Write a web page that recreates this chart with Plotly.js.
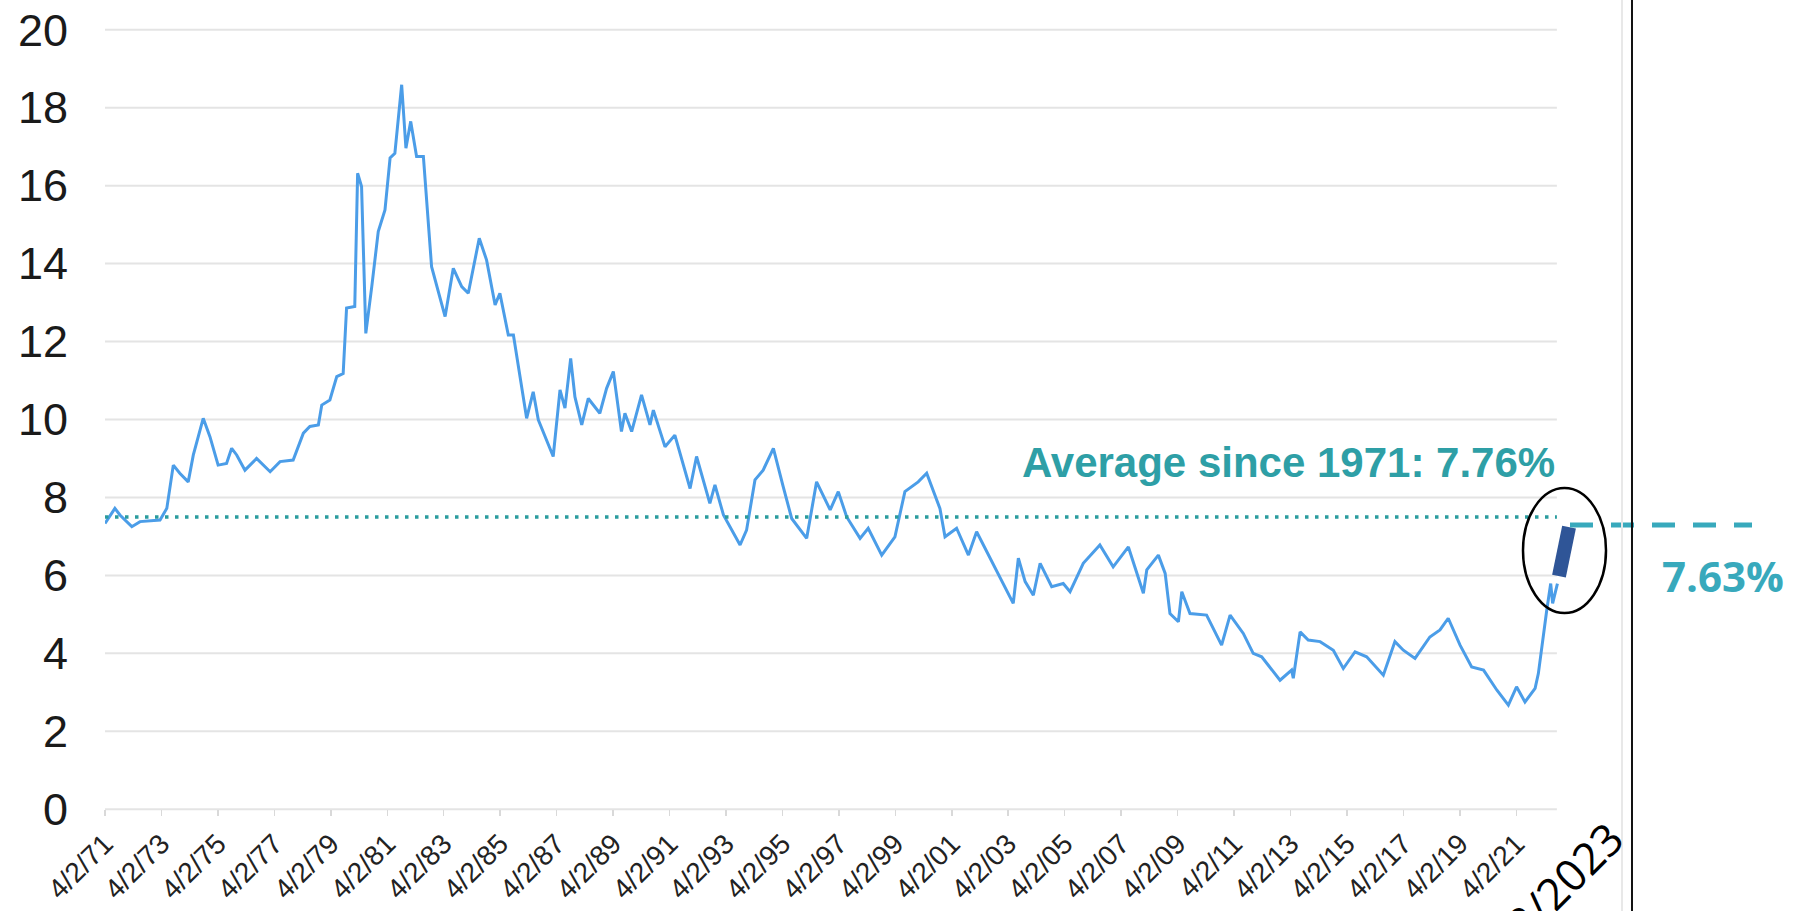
<!DOCTYPE html>
<html><head><meta charset="utf-8">
<script src="https://cdn.plot.ly/plotly-3.0.1.min.js"></script>
<style>html,body{margin:0;padding:0;background:#fff}#chart{width:1795px;height:911px}</style>
</head><body><div id="chart"></div>
<script>
// ---- data ----
const dates = [
'1971-04-02','1971-08-08','1971-10-12','1972-03-14','1972-06-28','1973-03-14','1973-06-10','1973-09-02','1973-11-25',
'1974-03-14','1974-05-19','1974-09-24','1974-12-20','1975-04-05','1975-07-23','1975-09-27','1975-12-01','1976-03-17',
'1976-08-14','1977-02-06','1977-06-14','1977-12-01','1978-04-12','1978-07-05','1978-10-23','1978-12-06','1979-03-21',
'1979-06-18','1979-09-09','1979-10-23','1980-02-06','1980-03-14','1980-05-04','1980-06-28','1980-09-13','1980-12-06',
'1981-03-03','1981-05-08','1981-07-09','1981-10-05','1981-11-29','1982-01-30','1982-04-16','1982-07-13','1982-10-27',
'1983-04-20','1983-08-04','1983-11-21','1984-02-14','1984-07-05','1984-10-08','1985-01-26','1985-03-29','1985-07-16',
'1985-09-20','1986-03-10','1986-06-03','1986-08-08','1987-02-17','1987-05-16','1987-07-19','1987-10-01','1987-11-25',
'1988-02-21','1988-05-16','1988-10-12','1989-01-08','1989-04-05','1989-07-19','1989-09-02','1989-11-28','1990-04-05',
'1990-07-23','1990-09-05','1991-02-03','1991-06-10','1991-12-24','1992-03-17','1992-09-05','1992-11-10','1993-02-28',
'1993-10-01','1993-12-24','1994-04-12','1994-07-27','1994-12-06','1995-04-12','1995-07-31','1996-02-10','1996-06-17',
'1996-12-10','1997-03-25','1997-07-12','1998-01-01','1998-04-16','1998-10-08','1999-03-28','1999-08-04','2000-01-23',
'2000-05-12','2000-10-30','2001-01-04','2001-06-03','2001-11-03','2002-02-17','2002-10-12','2003-06-06','2003-08-11',
'2003-11-07','2004-02-21','2004-05-19','2004-10-16','2005-03-14','2005-06-10','2005-11-28','2006-07-01','2006-12-20',
'2007-07-05','2008-01-15','2008-02-28','2008-07-27','2008-10-23','2008-12-24','2009-04-12','2009-05-26','2009-09-09',
'2010-04-12','2010-10-23','2011-02-10','2011-07-31','2011-12-06','2012-03-25','2012-11-17','2013-04-16','2013-05-08',
'2013-08-04','2013-11-17','2014-04-20','2014-10-08','2015-02-14','2015-07-16','2015-12-13','2016-07-16','2016-12-13',
'2017-04-01','2017-08-30','2018-03-10','2018-07-19','2018-11-03','2019-04-05','2019-09-02','2020-02-03','2020-07-23',
'2020-12-20','2021-04-05','2021-07-23','2021-12-01','2022-01-12','2022-03-17','2022-05-01','2022-06-21','2022-07-16',
'2022-09-16'];
const rates = [
7.33,7.72,7.55,7.25,7.38,7.42,7.72,8.83,8.62,
8.40,9.09,10.03,9.56,8.83,8.87,9.26,9.09,8.70,
9.00,8.66,8.92,8.96,9.65,9.82,9.86,10.37,10.50,
11.10,11.18,12.86,12.90,16.32,15.98,12.21,13.41,14.82,
15.38,16.71,16.83,18.59,16.96,17.65,16.75,16.75,13.92,
12.64,13.88,13.41,13.24,14.65,14.09,12.94,13.24,12.17,
12.17,10.03,10.71,9.99,9.05,10.76,10.29,11.57,10.58,
9.86,10.54,10.16,10.80,11.23,9.69,10.16,9.69,10.63,
9.86,10.24,9.30,9.60,8.23,9.05,7.85,8.32,7.55,
6.78,7.16,8.45,8.70,9.26,8.28,7.46,6.95,8.40,
7.68,8.15,7.50,6.95,7.21,6.52,6.99,8.15,8.40,
8.62,7.72,6.99,7.21,6.52,7.12,6.18,5.28,6.44,
5.84,5.49,6.31,5.71,5.79,5.58,6.31,6.78,6.22,
6.73,5.54,6.14,6.52,6.05,5.02,4.81,5.58,5.02,
4.98,4.21,4.98,4.51,4.00,3.91,3.31,3.57,3.36,
4.55,4.34,4.30,4.08,3.61,4.04,3.91,3.44,4.30,
4.08,3.87,4.42,4.60,4.90,4.21,3.65,3.57,3.06,
2.67,3.14,2.75,3.10,3.48,4.51,5.11,5.79,5.28,
5.79];
const tickDates = ['1971-04-02','1973-04-02','1975-04-02','1977-04-02','1979-04-02','1981-04-02','1983-04-02',
'1985-04-02','1987-04-02','1989-04-02','1991-04-02','1993-04-02','1995-04-02','1997-04-02','1999-04-02',
'2001-04-02','2003-04-02','2005-04-02','2007-04-02','2009-04-02','2011-04-02','2013-04-02','2015-04-02',
'2017-04-02','2019-04-02','2021-04-02'];
const tickLabels = ['4/2/71','4/2/73','4/2/75','4/2/77','4/2/79','4/2/81','4/2/83','4/2/85','4/2/87','4/2/89',
'4/2/91','4/2/93','4/2/95','4/2/97','4/2/99','4/2/01','4/2/03','4/2/05','4/2/07','4/2/09','4/2/11','4/2/13',
'4/2/15','4/2/17','4/2/19','4/2/21'];
const yTicks = [0,2,4,6,8,10,12,14,16,18,20];
const avgValue = 7.5;
const avgLabel = 'Average since 1971: 7.76%';
const jumpDates = ['2022-10-06','2023-02-13'];
const jumpValues = [5.98, 7.24];
const latestLabel = '7.63%';
const extraTickLabel = '4/2/2023';
const xStart = '1971-04-02';
const xEnd = '2023-07-05';
const gridEnd = '2022-09-09';

// ---- chart ----
const traces = [
  {x: dates, y: rates, type: 'scatter', mode: 'lines', hoverinfo: 'skip',
   line: {color: '#4b9de8', width: 3}},
  {x: jumpDates, y: jumpValues, type: 'scatter', mode: 'lines', hoverinfo: 'skip',
   line: {color: '#2f5597', width: 14}}
];

const shapes = yTicks.map(v => ({type: 'line', xref: 'x', yref: 'y', x0: xStart, x1: gridEnd, y0: v, y1: v,
  layer: 'below', line: {color: '#e4e4e4', width: 2}}));
shapes.push({type: 'line', xref: 'x', yref: 'y', x0: xStart, x1: gridEnd, y0: avgValue, y1: avgValue,
  line: {color: '#2a9c9e', width: 3.5, dash: '3.5px,6.5px'}});
shapes.push({type: 'circle', xref: 'paper', yref: 'paper', x0: 0.96136, x1: 1.01763, y0: 0.2566, y1: 0.4138,
  line: {color: '#000', width: 2.5}});
shapes.push({type: 'line', xref: 'paper', yref: 'paper', x0: 0.99322, x1: 1.11661, y0: 0.3673, y1: 0.3673,
  line: {color: '#38a9bc', width: 5, dash: '23px,18px'}});
shapes.push({type: 'line', xref: 'paper', yref: 'paper', x0: 1.02847, x1: 1.02847, y0: -0.13, y1: 1.04,
  line: {color: '#e8e8e8', width: 2}});
shapes.push({type: 'line', xref: 'paper', yref: 'paper', x0: 1.03525, x1: 1.03525, y0: -0.13, y1: 1.04,
  line: {color: '#111', width: 2}});

const annotations = [
  {xref: 'paper', yref: 'paper', x: 0.98441, y: 0.4465, xanchor: 'right', yanchor: 'middle', showarrow: false,
   text: avgLabel, font: {family: 'Liberation Sans, Arial, sans-serif', size: 42, color: '#2e9fa6', weight: 700}},
  {xref: 'paper', yref: 'paper', x: 1.05424, y: 0.3044, xanchor: 'left', yanchor: 'middle', showarrow: false,
   text: latestLabel, font: {family: 'Open Sans, sans-serif', size: 42, color: '#38a9bc', weight: 700}},
  {xref: 'paper', yref: 'paper', x: 1.03932, y: 0.0138, xanchor: 'right', yanchor: 'top', showarrow: false,
   textangle: -45, text: extraTickLabel, font: {family: 'Open Sans, sans-serif', size: 44, color: '#000'}}
];

const layout = {
  width: 1795, height: 911,
  margin: {l: 105, r: 215, t: 22, b: 94, pad: 0},
  paper_bgcolor: '#fff', plot_bgcolor: '#fff',
  showlegend: false,
  xaxis: {type: 'date', range: [xStart, xEnd], showgrid: false, zeroline: false, showline: false,
    tickmode: 'array', tickvals: tickDates, ticktext: tickLabels, tickangle: -45,
    ticks: 'outside', ticklen: 6, tickcolor: '#d9d9d9', tickwidth: 1.5,
    tickfont: {family: 'Liberation Sans, Arial, sans-serif', size: 28, color: '#222'},
    anchor: 'free', position: 0.2 / 20.4},
  yaxis: {range: [-0.2, 20.2], showgrid: false, zeroline: false, showline: false,
    tickmode: 'array', tickvals: yTicks, ticks: '', ticklabelstandoff: 36,
    tickfont: {family: 'Liberation Sans, Arial, sans-serif', size: 45, color: '#1a1a1a'}},
  shapes: shapes,
  annotations: annotations
};

Plotly.newPlot('chart', traces, layout, {staticPlot: true, displayModeBar: false});
</script>
</body></html>
